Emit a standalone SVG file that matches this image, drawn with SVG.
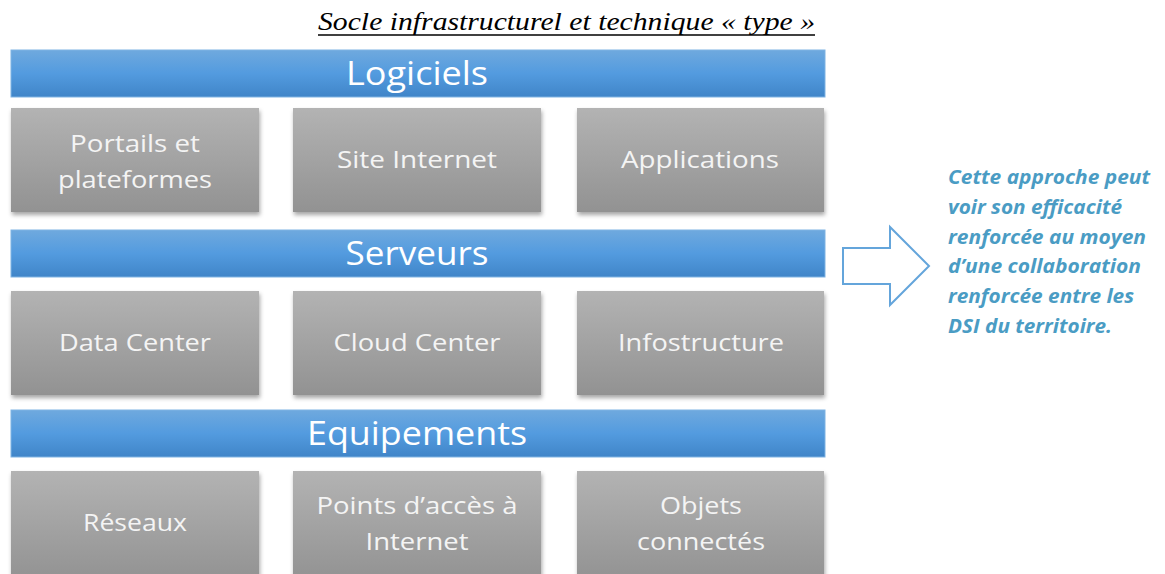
<svg xmlns="http://www.w3.org/2000/svg" width="1165" height="574" viewBox="0 0 1165 574">
<defs>
  <linearGradient id="gBox" x1="0" y1="0" x2="0" y2="1">
    <stop offset="0" stop-color="#b3b3b3"/>
    <stop offset="1" stop-color="#929292"/>
  </linearGradient>
  <linearGradient id="gBar" x1="0" y1="0" x2="0" y2="1">
    <stop offset="0" stop-color="#6fa9de"/>
    <stop offset="0.5" stop-color="#539bdf"/>
    <stop offset="1" stop-color="#4085c8"/>
  </linearGradient>
  <filter id="sh" x="-10%" y="-10%" width="125%" height="130%">
    <feDropShadow dx="1" dy="3" stdDeviation="2" flood-color="#000" flood-opacity="0.35"/>
  </filter>
  <style>
    .box { fill: url(#gBox); filter: url(#sh); }
    .bar { fill: url(#gBar); stroke: #7fb3e3; stroke-width: 1; }
    .bt { font-family: "Open Sans", "Liberation Sans", sans-serif; font-size: 24px; fill: #f4f4f4; text-anchor: middle; }
    .ht { font-family: "Open Sans", "Liberation Sans", sans-serif; font-size: 32px; fill: #ffffff; text-anchor: middle; }
    .title { font-family: "Liberation Serif", "DejaVu Serif", serif; font-style: italic; font-size: 25px; fill: #000; }
    .note { font-family: "Open Sans", "Liberation Sans", sans-serif; font-weight: bold; font-style: italic; font-size: 19.5px; fill: #4a9cc4; }
  </style>
</defs>
<rect width="1165" height="574" fill="#ffffff"/>

<g id="title">
  <text class="title" x="318" y="30" textLength="497" lengthAdjust="spacingAndGlyphs">Socle infrastructurel et technique « type »</text>
  <line x1="318" y1="35" x2="815" y2="35" stroke="#000" stroke-width="1.3"/>
</g>

<g id="bar-logiciels">
  <rect class="bar" x="11" y="50" width="814" height="47"/>
  <text class="ht" x="417" y="85" textLength="142" lengthAdjust="spacingAndGlyphs">Logiciels</text>
</g>
<g id="node-portails">
  <rect class="box" x="11" y="108" width="248" height="104"/>
  <text class="bt" x="135" y="152" textLength="130" lengthAdjust="spacingAndGlyphs">Portails et</text>
  <text class="bt" x="135" y="188" textLength="154" lengthAdjust="spacingAndGlyphs">plateformes</text>
</g>
<g id="node-site">
  <rect class="box" x="293" y="108" width="248" height="104"/>
  <text class="bt" x="417" y="168" textLength="160" lengthAdjust="spacingAndGlyphs">Site Internet</text>
</g>
<g id="node-applications">
  <rect class="box" x="577" y="108" width="247" height="104"/>
  <text class="bt" x="700" y="168" textLength="158" lengthAdjust="spacingAndGlyphs">Applications</text>
</g>

<g id="bar-serveurs">
  <rect class="bar" x="11" y="230" width="814" height="47"/>
  <text class="ht" x="417" y="265" textLength="143" lengthAdjust="spacingAndGlyphs">Serveurs</text>
</g>
<g id="node-datacenter">
  <rect class="box" x="11" y="291" width="248" height="104"/>
  <text class="bt" x="135" y="351" textLength="152" lengthAdjust="spacingAndGlyphs">Data Center</text>
</g>
<g id="node-cloudcenter">
  <rect class="box" x="293" y="291" width="248" height="104"/>
  <text class="bt" x="417" y="351" textLength="167" lengthAdjust="spacingAndGlyphs">Cloud Center</text>
</g>
<g id="node-infostructure">
  <rect class="box" x="577" y="291" width="247" height="104"/>
  <text class="bt" x="701" y="351" textLength="166" lengthAdjust="spacingAndGlyphs">Infostructure</text>
</g>

<g id="bar-equipements">
  <rect class="bar" x="11" y="410" width="814" height="47"/>
  <text class="ht" x="417" y="445" textLength="220" lengthAdjust="spacingAndGlyphs">Equipements</text>
</g>
<g id="node-reseaux">
  <rect class="box" x="11" y="471" width="248" height="110"/>
  <text class="bt" x="135" y="531" textLength="104" lengthAdjust="spacingAndGlyphs">Réseaux</text>
</g>
<g id="node-points">
  <rect class="box" x="293" y="471" width="248" height="110"/>
  <text class="bt" x="417" y="514" textLength="201" lengthAdjust="spacingAndGlyphs">Points d’accès à</text>
  <text class="bt" x="417" y="550" textLength="103" lengthAdjust="spacingAndGlyphs">Internet</text>
</g>
<g id="node-objets">
  <rect class="box" x="577" y="471" width="247" height="110"/>
  <text class="bt" x="701" y="514" textLength="82" lengthAdjust="spacingAndGlyphs">Objets</text>
  <text class="bt" x="701" y="550" textLength="128" lengthAdjust="spacingAndGlyphs">connectés</text>
</g>

<g id="connectors">
  <polygon points="843,248 890,248 890,227 929,266 890,305 890,284 843,284" fill="#ffffff" stroke="#64a5db" stroke-width="2" stroke-linejoin="miter"/>
</g>

<g id="note">
  <text class="note" x="948" y="184" textLength="202" lengthAdjust="spacingAndGlyphs">Cette approche peut</text>
  <text class="note" x="948" y="214" textLength="174" lengthAdjust="spacingAndGlyphs">voir son efficacité</text>
  <text class="note" x="948" y="244" textLength="198" lengthAdjust="spacingAndGlyphs">renforcée au moyen</text>
  <text class="note" x="948" y="273" textLength="193" lengthAdjust="spacingAndGlyphs">d’une collaboration</text>
  <text class="note" x="948" y="303" textLength="186" lengthAdjust="spacingAndGlyphs">renforcée entre les</text>
  <text class="note" x="948" y="333" textLength="164" lengthAdjust="spacingAndGlyphs">DSI du territoire.</text>
</g>
</svg>
